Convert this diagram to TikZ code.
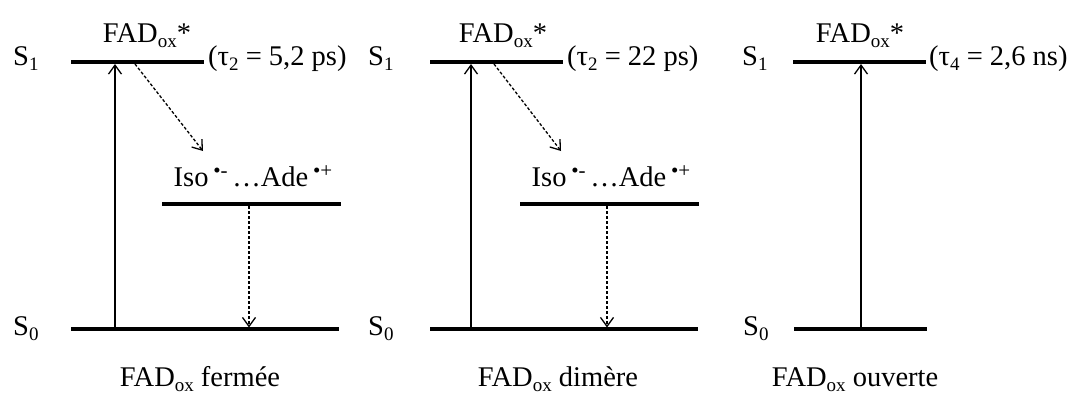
\documentclass[tikz,border=0pt]{standalone}
\usepackage{fontspec}
\setmainfont{Liberation Serif}
\usetikzlibrary{arrows.meta}
\newcommand{\lowidx}[1]{\raisebox{-0.2em}{\fontsize{19}{20}\selectfont #1}}
\newcommand{\highidx}[1]{\raisebox{0.3em}{\fontsize{21}{22}\selectfont #1}}
\begin{document}
\begin{tikzpicture}[x=1pt,y=-1pt,
  lbl/.style={inner sep=0pt,font=\fontsize{28.5}{31}\selectfont},
  level/.style={line width=3.5pt},
  trans/.style={line width=1.3pt,-{Straight Barb[length=9pt,width=13pt,line width=1.3pt]}},
  nonrad/.style={trans,dash pattern=on 3pt off 2pt}]
\useasboundingbox (0,0) rectangle (1075,394);
% ---------- panel 1 : fermee ----------
\coordinate (a1L) at (71,62);  \coordinate (a1R) at (204,62);
\coordinate (a0L) at (71,329); \coordinate (a0R) at (339,329);
\coordinate (aiL) at (162,204); \coordinate (aiR) at (341,204);
\draw[level] (a1L) -- (a1R);
\draw[level] (a0L) -- (a0R);
\draw[level] (aiL) -- (aiR);
\node[lbl,anchor=base west] (aS1) at (13,65) {S\lowidx{1}};
\node[lbl,anchor=base west] (aS0) at (13,335) {S\lowidx{0}};
\node[lbl,anchor=base] (aF) at (147,42) {FAD\lowidx{ox}*};
\node[lbl,anchor=base west] (aT) at (208,65) {(τ\lowidx{2} = 5,2 ps)};
\node[lbl,anchor=base] (aI) at (253,186) {Iso\,\highidx{•-}\,…Ade\,\highidx{•+}};
\node[lbl,anchor=base] (aC) at (200,386) {FAD\lowidx{ox} fermée};
\coordinate (aUp0) at (115,329); \coordinate (aUp1) at (115,64);
\draw[trans] (aUp0) -- (aUp1);
\coordinate (aD0) at (135,64); \coordinate (aD1) at (203,151);
\draw[nonrad] (aD0) -- (aD1);
\coordinate (aV0) at (249,206); \coordinate (aV1) at (249,327.5);
\draw[nonrad] (aV0) -- (aV1);
% ---------- panel 2 : dimere ----------
\coordinate (b1L) at (430,62);  \coordinate (b1R) at (563,62);
\coordinate (b0L) at (430,329); \coordinate (b0R) at (698,329);
\coordinate (biL) at (520,204); \coordinate (biR) at (699,204);
\draw[level] (b1L) -- (b1R);
\draw[level] (b0L) -- (b0R);
\draw[level] (biL) -- (biR);
\node[lbl,anchor=base west] (bS1) at (368,65) {S\lowidx{1}};
\node[lbl,anchor=base west] (bS0) at (368,335) {S\lowidx{0}};
\node[lbl,anchor=base] (bF) at (503,42) {FAD\lowidx{ox}*};
\node[lbl,anchor=base west] (bT) at (567,65) {(τ\lowidx{2} = 22 ps)};
\node[lbl,anchor=base] (bI) at (611,186) {Iso\,\highidx{•-}\,…Ade\,\highidx{•+}};
\node[lbl,anchor=base] (bC) at (558,386) {FAD\lowidx{ox} dimère};
\coordinate (bUp0) at (471,329); \coordinate (bUp1) at (471,64);
\draw[trans] (bUp0) -- (bUp1);
\coordinate (bD0) at (494,64); \coordinate (bD1) at (561,151);
\draw[nonrad] (bD0) -- (bD1);
\coordinate (bV0) at (607,206); \coordinate (bV1) at (607,327.5);
\draw[nonrad] (bV0) -- (bV1);
% ---------- panel 3 : ouverte ----------
\coordinate (c1L) at (793,62);  \coordinate (c1R) at (926,62);
\coordinate (c0L) at (794,329); \coordinate (c0R) at (927,329);
\draw[level] (c1L) -- (c1R);
\draw[level] (c0L) -- (c0R);
\node[lbl,anchor=base west] (cS1) at (742,65) {S\lowidx{1}};
\node[lbl,anchor=base west] (cS0) at (743,335) {S\lowidx{0}};
\node[lbl,anchor=base] (cF) at (860,42) {FAD\lowidx{ox}*};
\node[lbl,anchor=base west] (cT) at (929,65) {(τ\lowidx{4} = 2,6 ns)};
\node[lbl,anchor=base] (cC) at (855,386) {FAD\lowidx{ox} ouverte};
\coordinate (cUp0) at (861,329); \coordinate (cUp1) at (861,64);
\draw[trans] (cUp0) -- (cUp1);
\end{tikzpicture}
\end{document}
